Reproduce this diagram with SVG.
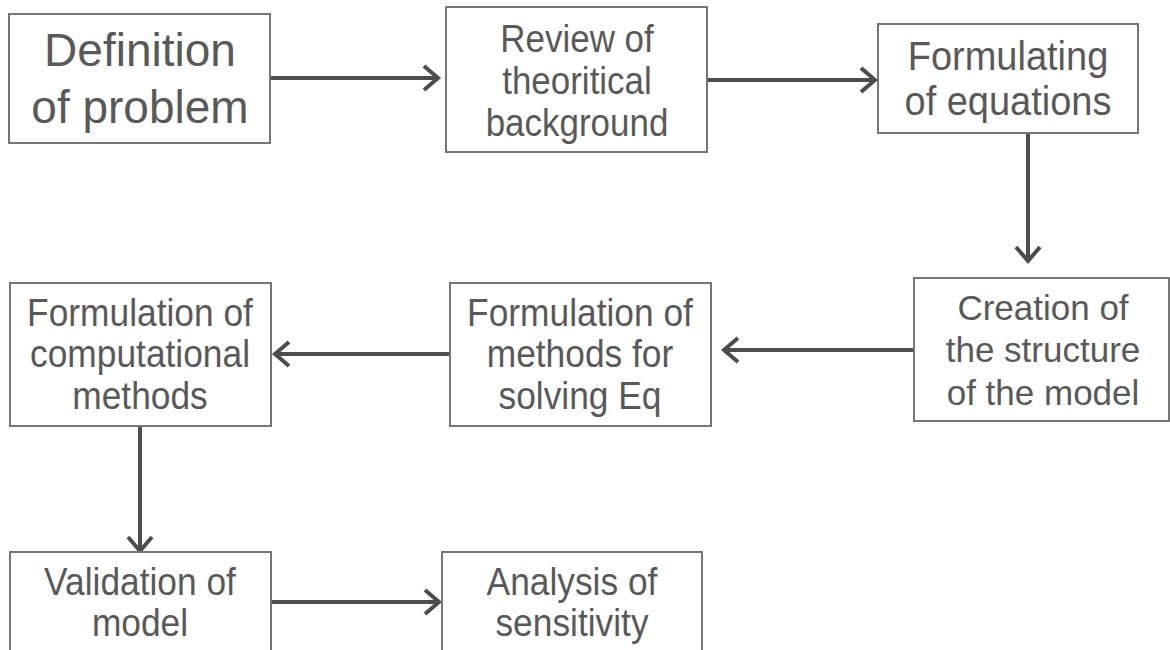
<svg xmlns="http://www.w3.org/2000/svg" width="1170" height="650" viewBox="0 0 1170 650">
  <style>
    .box { fill: #ffffff; stroke: #767676; stroke-width: 2; }
    .t { font-family: "Liberation Sans", Arial, sans-serif; fill: #595959; text-anchor: middle; }
    .big { font-size: 46px; }
    .mid { font-size: 38px; }
    .sm { font-size: 35px; }
    .conn { stroke: #4d4d4d; stroke-width: 4; fill: none; marker-end: url(#arr); }
  </style>
  <defs>
    <marker id="arr" markerUnits="userSpaceOnUse" markerWidth="30" markerHeight="30" refX="0" refY="0" viewBox="-20 -15 25 30" orient="auto" overflow="visible">
      <path d="M-14,-12 L0,0 L-14,12" fill="none" stroke="#4d4d4d" stroke-width="4"/>
    </marker>
  </defs>
  <rect width="1170" height="650" fill="#ffffff"/>

  <g id="connectors">
    <line class="conn" x1="271" y1="78" x2="438" y2="78"/>
    <line class="conn" x1="708" y1="80" x2="875" y2="80"/>
    <line class="conn" x1="1028" y1="134" x2="1028" y2="261"/>
    <line class="conn" x1="913" y1="350" x2="724" y2="350"/>
    <line class="conn" x1="449" y1="354" x2="275" y2="354"/>
    <line class="conn" x1="140" y1="427" x2="140" y2="551"/>
    <line class="conn" x1="272" y1="602" x2="439" y2="602"/>
  </g>

  <g id="n1">
    <rect class="box" x="9" y="14" width="261" height="129"/>
    <text class="t big" x="140" y="66">Definition</text>
    <text class="t big" x="140" y="123">of problem</text>
  </g>

  <g id="n2">
    <rect class="box" x="446" y="7" width="261" height="145"/>
    <g transform="translate(577 0) scale(0.92 1)">
      <text class="t mid" x="0" y="52">Review of</text>
      <text class="t mid" x="0" y="94">theoritical</text>
      <text class="t mid" x="0" y="136">background</text>
    </g>
  </g>

  <g id="n3">
    <rect class="box" x="878" y="24" width="260" height="109"/>
    <g transform="translate(1008 0) scale(0.95 1)">
      <text class="t" style="font-size:40px" x="0" y="70">Formulating</text>
      <text class="t" style="font-size:40px" x="0" y="115">of equations</text>
    </g>
  </g>

  <g id="n4">
    <rect class="box" x="914" y="278" width="255" height="143"/>
    <text class="t sm" x="1043" y="320">Creation of</text>
    <text class="t sm" x="1043" y="362">the structure</text>
    <text class="t sm" x="1043" y="405">of the model</text>
  </g>

  <g id="n5">
    <rect class="box" x="450" y="283" width="261" height="143"/>
    <g transform="translate(580 0) scale(0.93 1)">
      <text class="t mid" x="0" y="326">Formulation of</text>
      <text class="t mid" x="0" y="367">methods for</text>
      <text class="t mid" x="0" y="409">solving Eq</text>
    </g>
  </g>

  <g id="n6">
    <rect class="box" x="10" y="283" width="261" height="143"/>
    <g transform="translate(140 0) scale(0.93 1)">
      <text class="t mid" x="0" y="326">Formulation of</text>
      <text class="t mid" x="0" y="367">computational</text>
      <text class="t mid" x="0" y="409">methods</text>
    </g>
  </g>

  <g id="n7">
    <rect class="box" x="10" y="552" width="261" height="110"/>
    <g transform="translate(140 0) scale(0.93 1)">
      <text class="t mid" x="0" y="595">Validation of</text>
      <text class="t mid" x="0" y="636">model</text>
    </g>
  </g>

  <g id="n8">
    <rect class="box" x="442" y="552" width="260" height="110"/>
    <g transform="translate(572 0) scale(0.93 1)">
      <text class="t mid" x="0" y="595">Analysis of</text>
      <text class="t mid" x="0" y="636">sensitivity</text>
    </g>
  </g>
</svg>
